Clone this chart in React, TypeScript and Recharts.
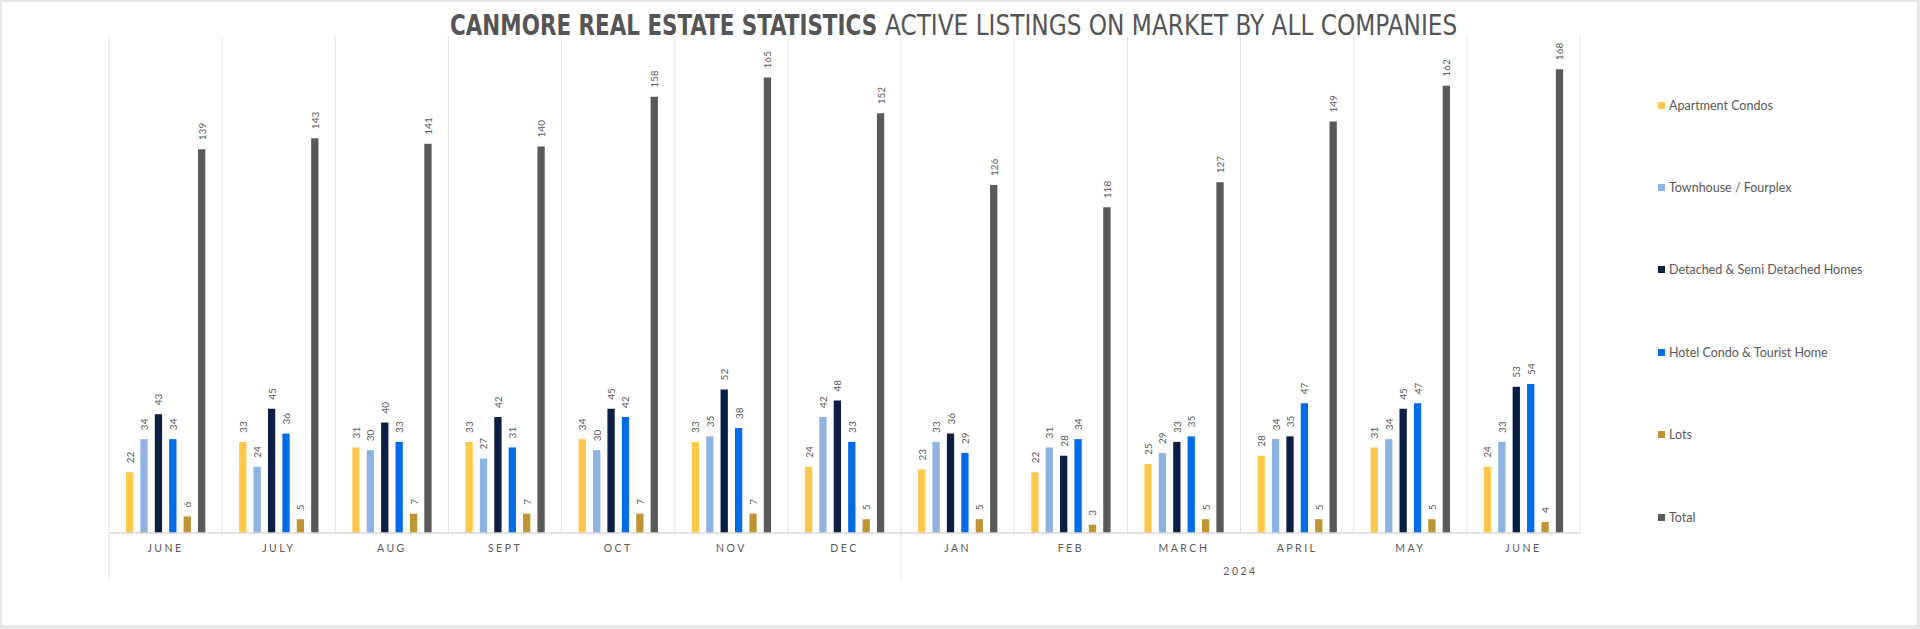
import React, { useLayoutEffect, useRef, useState } from 'react';
import { BarChart, Bar, XAxis, YAxis, CartesianGrid, LabelList } from 'recharts';

const months = ['JUNE', 'JULY', 'AUG', 'SEPT', 'OCT', 'NOV', 'DEC', 'JAN', 'FEB', 'MARCH', 'APRIL', 'MAY', 'JUNE'];
const apartmentCondos = [22, 33, 31, 33, 34, 33, 24, 23, 22, 25, 28, 31, 24];
const townhouseFourplex = [34, 24, 30, 27, 30, 35, 42, 33, 31, 29, 34, 34, 33];
const detachedHomes = [43, 45, 40, 42, 45, 52, 48, 36, 28, 33, 35, 45, 53];
const hotelCondo = [34, 36, 33, 31, 42, 38, 33, 29, 34, 35, 47, 47, 54];
const lots = [6, 5, 7, 7, 7, 7, 5, 5, 3, 5, 5, 5, 4];
const total = [139, 143, 141, 140, 158, 165, 152, 126, 118, 127, 149, 162, 168];
const yearLabel = '2024';
const yearStartIndex = 7;
const titleBold = 'CANMORE REAL ESTATE STATISTICS';
const titleRest = 'ACTIVE LISTINGS ON MARKET BY ALL COMPANIES';

const series = [
  { key: 'apt', name: 'Apartment Condos', values: apartmentCondos, color: '#FFC84C' },
  { key: 'town', name: 'Townhouse / Fourplex', values: townhouseFourplex, color: '#8DB3E2' },
  { key: 'det', name: 'Detached & Semi Detached Homes', values: detachedHomes, color: '#0B1F45' },
  { key: 'hotel', name: 'Hotel Condo & Tourist Home', values: hotelCondo, color: '#006CE6' },
  { key: 'lots', name: 'Lots', values: lots, color: '#BF9534' },
  { key: 'total', name: 'Total', values: total, color: '#595959' },
];

const data = months.map((m, i) => {
  const row: any = { id: `c${i}`, month: m };
  series.forEach((s) => { row[s.key] = s.values[i]; });
  return row;
});

const W = 1920;
const H = 629;
const M = { top: 36, right: 340, bottom: 56, left: 109 };
const AXIS_H = 40;
const plotW = W - M.left - M.right;
const catW = plotW / months.length;

const TEXT = '#595959';
const GRID = '#e2e2e2';

const MonthTick = (props: any) => {
  const { x, y, payload, index } = props;
  const i = typeof index === 'number' ? index : months.indexOf(payload.value);
  const label = months[i] ?? '';
  const left = x - catW / 2;
  return (
    <g>
      <text x={x} y={y + 15} textAnchor="middle" dominantBaseline="central" fontSize={10.5}
        fontFamily="Lato, 'Open Sans', sans-serif" letterSpacing={2.5} fill={TEXT}>
        {label}
      </text>
      {(i === 0 || i === yearStartIndex) && (
        <line x1={left} x2={left} y1={y} y2={y + 46} stroke={GRID} strokeWidth={1} />
      )}
      {i === Math.floor((yearStartIndex + months.length - 1) / 2) && (
        <text x={x + catW / 2} y={y + 38} textAnchor="middle" dominantBaseline="central" fontSize={10.5}
          fontFamily="Lato, 'Open Sans', sans-serif" letterSpacing={2.5} fill={TEXT}>
          {yearLabel}
        </text>
      )}
    </g>
  );
};

const ValueLabel = (props: any) => {
  const { x, y, width, value } = props;
  const cx = Number(x) + Number(width) / 2;
  const ty = Number(y) - 9;
  return (
    <text x={cx} y={ty} transform={`rotate(-90, ${cx}, ${ty})`} textAnchor="start" dominantBaseline="central"
      fontSize={10} fontFamily="Lato, 'Open Sans', sans-serif" fill={TEXT}>
      {value}
    </text>
  );
};

const gridGen = (p: any) => {
  const left = p?.offset?.left ?? M.left;
  const width = p?.offset?.width ?? plotW;
  const n = months.length;
  const arr: number[] = [];
  for (let i = 0; i <= n; i++) arr.push(left + (width * i) / n);
  return arr;
};

const TitlePart = ({ x, width, weight, text }: { x: number; width: number; weight: number; text: string }) => {
  const ref = useRef<SVGTextElement>(null);
  const [s, setS] = useState(0.75);
  useLayoutEffect(() => {
    if (ref.current) {
      const n = ref.current.getComputedTextLength();
      if (n > 0) setS(width / n);
    }
  }, [width]);
  return (
    <text ref={ref} x={0} y={0} transform={`translate(${x},35) scale(${s},1)`} fontSize={28} fontWeight={weight}
      fontFamily="'Liberation Sans Narrow', 'DejaVu Sans Condensed', 'Open Sans', sans-serif" fill="#555555">
      {text}
    </text>
  );
};

export default function App() {
  return (
    <div style={{ position: 'absolute', left: 0, top: 0, width: W, height: H, background: '#e6e6e6' }}>
      <div style={{ position: 'absolute', left: 2, top: 2, width: 1915, height: 623, background: '#ffffff' }} />
      <div style={{ position: 'absolute', left: 0, top: 0 }}>
        <BarChart width={W} height={H} data={data} margin={M} barSize={7.3} barGap={7.1}>
          <CartesianGrid horizontal={false} vertical stroke={GRID} verticalCoordinatesGenerator={gridGen} />
          <XAxis dataKey="id" height={AXIS_H} interval={0} tickLine={false} tickSize={0} tickMargin={0}
            axisLine={{ stroke: '#d9d9d9', strokeWidth: 1.5 }} tick={<MonthTick />} />
          <YAxis hide domain={[0, 180]} />
          {series.map((s) => (
            <Bar key={s.key} dataKey={s.key} name={s.name} fill={s.color} isAnimationActive={false}>
              <LabelList dataKey={s.key} content={<ValueLabel />} />
            </Bar>
          ))}
        </BarChart>
      </div>
      <svg style={{ position: 'absolute', left: 0, top: 0 }} width={W} height={60}>
        <TitlePart x={450} width={427} weight={700} text={titleBold} />
        <TitlePart x={885} width={572} weight={400} text={titleRest} />
      </svg>
      <div style={{ position: 'absolute', left: 1658, top: 64, width: 260 }}>
        {series.map((s) => (
          <div key={s.key} style={{ height: 82.4, display: 'flex', alignItems: 'center' }}>
            <span style={{ display: 'inline-block', width: 7, height: 7, background: s.color, marginRight: 4 }} />
            <span style={{ fontFamily: "Lato, 'Open Sans', sans-serif", fontSize: 12.5, color: TEXT, whiteSpace: 'nowrap' }}>
              {s.name}
            </span>
          </div>
        ))}
      </div>
    </div>
  );
}
